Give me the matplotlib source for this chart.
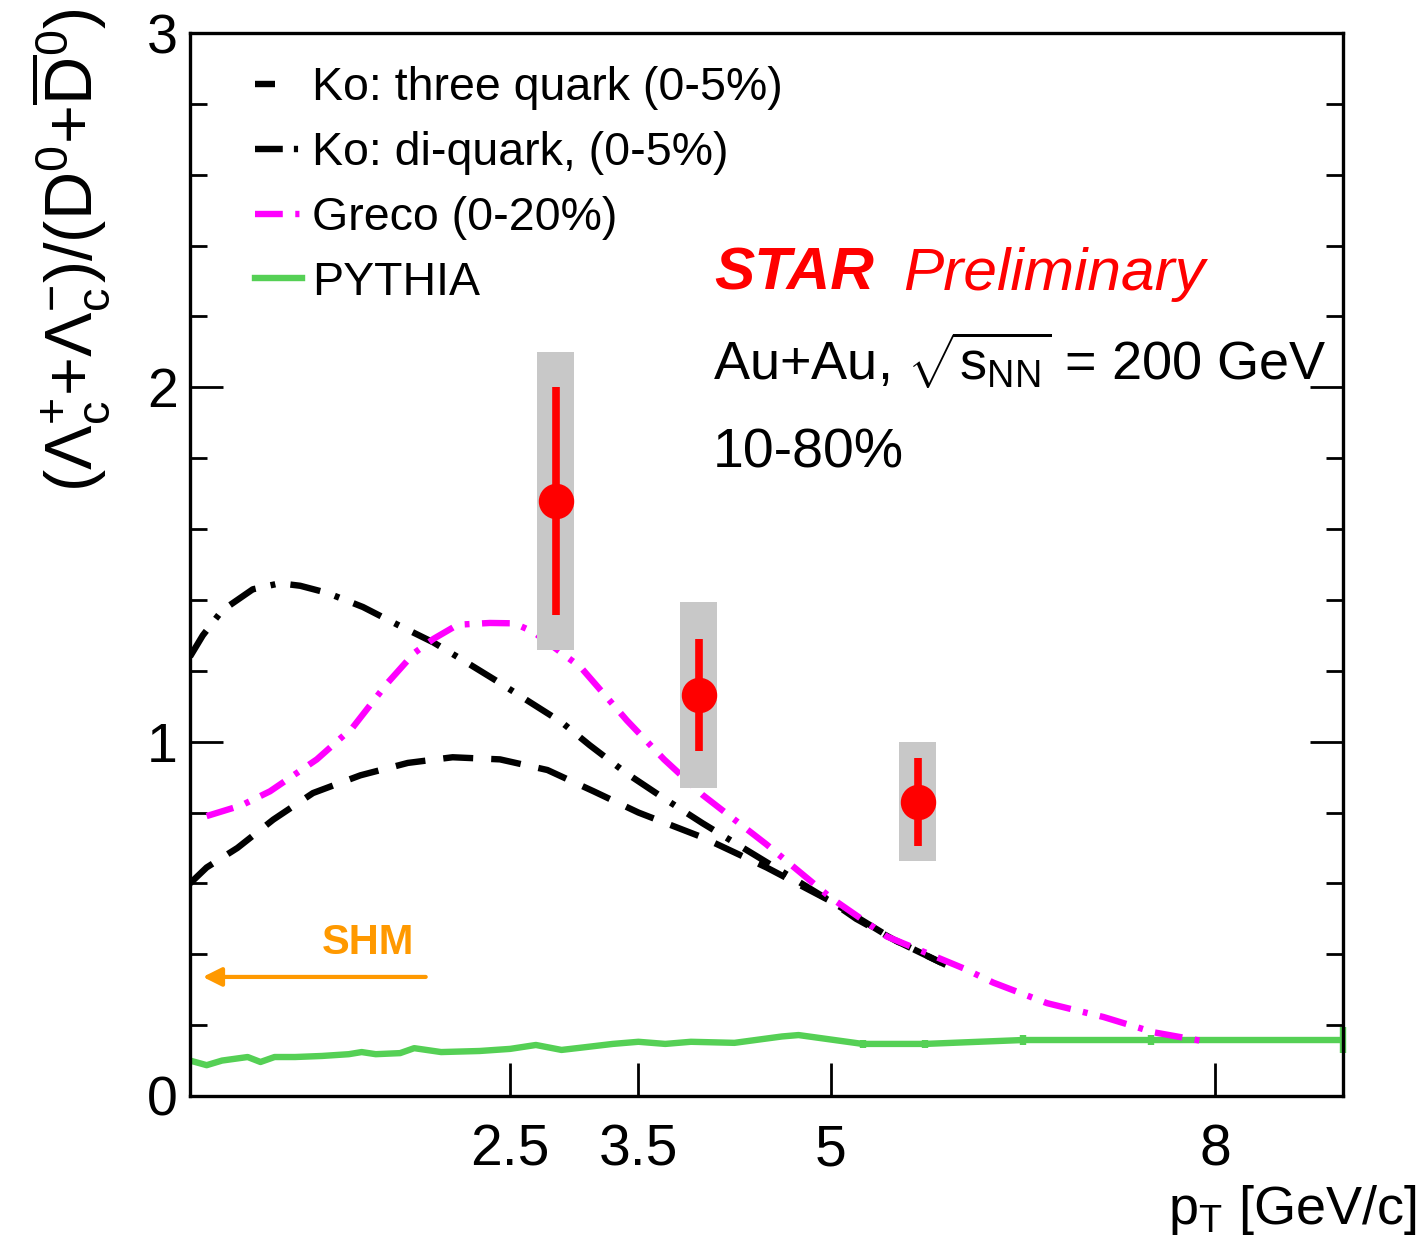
import numpy as np
import matplotlib
matplotlib.use("Agg")
import matplotlib.pyplot as plt
from matplotlib.lines import Line2D

plt.rcParams['font.family'] = ['Liberation Sans', 'DejaVu Sans']
plt.rcParams['mathtext.fontset'] = 'custom'
plt.rcParams['mathtext.rm'] = 'Liberation Sans'
plt.rcParams['mathtext.it'] = 'Liberation Sans:italic'
plt.rcParams['mathtext.bf'] = 'Liberation Sans:bold'
plt.rcParams['mathtext.default'] = 'regular'
plt.rcParams['lines.scale_dashes'] = False

# ---------------- data ----------------
# STAR measurement
pt_data = [2.855, 3.97, 5.68]
ratio_data = [1.68, 1.132, 0.83]
stat_err = [0.322, 0.158, 0.125]
sys_err = [0.42, 0.262, 0.168]
box_width = 0.29

# Ko: three quark (0-5%)
ko3_x = [0.0, 0.13, 0.37, 0.65, 0.96, 1.33, 1.70, 2.05, 2.42, 2.79, 3.15, 3.5, 4.0, 4.5, 5.0, 5.2, 5.5, 5.9]
ko3_y = [0.60, 0.645, 0.70, 0.78, 0.855, 0.905, 0.94, 0.956, 0.95, 0.92, 0.86, 0.80, 0.73, 0.645, 0.55, 0.50, 0.44, 0.37]

# Ko: di-quark (0-5%)
ko2_x = [0.0, 0.1, 0.25, 0.49, 0.70, 0.86, 1.07, 1.35, 1.62, 1.9, 2.13, 2.4, 2.66, 2.9, 3.12, 3.41, 3.7, 4.0, 4.5, 5.0, 5.5, 5.9]
ko2_y = [1.24, 1.30, 1.37, 1.43, 1.447, 1.44, 1.42, 1.38, 1.33, 1.28, 1.23, 1.17, 1.11, 1.055, 0.99, 0.91, 0.84, 0.77, 0.66, 0.55, 0.44, 0.37]

# Greco (0-20%)
greco_x = [0.13, 0.4, 0.625, 0.99, 1.27, 1.54, 1.75, 1.90, 2.09, 2.34, 2.53, 2.68, 3.05, 3.41, 3.7, 4.0, 4.5, 5.0, 5.44, 6.04, 6.27, 6.69, 7.13, 7.52, 7.95]
greco_y = [0.79, 0.82, 0.86, 0.95, 1.04, 1.165, 1.25, 1.29, 1.33, 1.335, 1.334, 1.31, 1.21, 1.06, 0.95, 0.85, 0.71, 0.56, 0.45, 0.36, 0.32, 0.262, 0.223, 0.18, 0.152]

# PYTHIA
py_x = [0.0, 0.13, 0.25, 0.45, 0.55, 0.66, 0.82, 1.03, 1.24, 1.34, 1.45, 1.64, 1.75, 1.96, 2.26, 2.5, 2.7, 2.9,
        3.09, 3.3, 3.5, 3.71, 3.91, 4.25, 4.62, 4.75, 5.25, 5.74, 6.5, 7.5, 9.0]
py_y = [0.10, 0.087, 0.10, 0.11, 0.096, 0.11, 0.11, 0.113, 0.118, 0.124, 0.118, 0.121, 0.135, 0.124, 0.127, 0.133,
        0.144, 0.13, 0.138, 0.147, 0.153, 0.147, 0.153, 0.15, 0.168, 0.172, 0.147, 0.147, 0.158, 0.158, 0.158]
py_err_x = [5.25, 5.74, 6.5, 7.5]
py_err_y = [0.147, 0.147, 0.158, 0.158]
py_err = [0.012, 0.012, 0.015, 0.015]
py_last_x = [9.0]
py_last_y = [0.158]
py_last_err = [0.037]

# SHM arrow
shm_from = (1.84, 0.336)
shm_to = (0.10, 0.336)

x_ticks = [2.5, 3.5, 5, 8]
x_ticklabels = ['2.5', '3.5', '5', '8']
y_ticks = [0, 1, 2, 3]
y_ticklabels = ['0', '1', '2', '3']

labels = ['Ko: three quark (0-5%)', 'Ko: di-quark, (0-5%)', 'Greco (0-20%)', 'PYTHIA']

# ---------------- figure ----------------
fig = plt.figure(figsize=(14.25, 12.42), dpi=100)
ax = fig.add_axes([190/1425, 1-1096/1242, (1343-190)/1425, (1096-33)/1242])

green = '#55d055'
magenta = '#ff00ff'
orange = '#ff9900'
lw = 4.6

dash3 = (21.6, 13)
dash2 = (22, 11, 3.5, 11)
dashg = (20, 9, 3.5, 9)

ax.plot(py_x, py_y, color=green, lw=lw, zorder=2, solid_joinstyle='round')
ax.errorbar(py_err_x, py_err_y, yerr=py_err, fmt='none', ecolor=green, elinewidth=lw, capsize=0, zorder=2)
ax.errorbar(py_last_x, py_last_y, yerr=py_last_err, fmt='none', ecolor=green, elinewidth=lw, capsize=0,
            zorder=2, clip_on=False)

ax.plot(ko3_x, ko3_y, color='black', lw=lw, dashes=dash3, zorder=2)
ax.plot(ko2_x, ko2_y, color='black', lw=lw, dashes=dash2, zorder=2)
ax.plot(greco_x, greco_y, color=magenta, lw=lw, dashes=dashg, zorder=2)

# systematic boxes
lo = [v - s for v, s in zip(ratio_data, sys_err)]
hi = [2 * s for s in sys_err]
ax.bar(pt_data, hi, bottom=lo, width=box_width, color='#c8c8c8', edgecolor='none', zorder=3)
ax.errorbar(pt_data, ratio_data, yerr=stat_err, fmt='o', color='red', ms=24.5, elinewidth=5.5,
            capsize=0, zorder=4)

# SHM
ax.annotate('', xy=shm_to, xytext=shm_from,
            arrowprops=dict(arrowstyle='-|>', color=orange, lw=3, mutation_scale=28,
                            shrinkA=0, shrinkB=0))
ax.text(1.39, 0.40, 'SHM', color=orange, fontsize=30, fontweight='bold', ha='center', va='baseline')

# texts
ax.text(4.09, 2.275, 'STAR', color='red', fontsize=43.5, fontweight='bold', fontstyle='italic', va='baseline')
ax.text(5.57, 2.275, 'Preliminary', color='red', fontsize=43.5, fontstyle='italic', va='baseline')
ax.text(4.08, 2.02, r'Au+Au, $\sqrt{s_{NN}}$ = 200 GeV', fontsize=39, va='baseline')
ax.text(4.08, 1.775, '10-80%', fontsize=40, va='baseline')

# axes
ax.set_xlim(0, 9)
ax.set_ylim(0, 3)
ax.set_xticks(x_ticks)
ax.set_xticklabels(x_ticklabels)
ax.set_yticks(y_ticks)
ax.set_yticklabels(y_ticklabels)
ax.set_yticks(np.arange(0, 3.01, 0.2), minor=True)
ax.tick_params(axis='y', which='both', direction='in', left=True, right=True, width=2.0, labelsize=40, pad=9)
ax.tick_params(axis='y', which='major', length=24)
ax.tick_params(axis='y', which='minor', length=12)
ax.tick_params(axis='x', which='major', direction='in', length=24, width=2.0, labelsize=41, pad=20, top=False)
ax.tick_params(axis='x', which='minor', bottom=False, top=False)
for sp in ax.spines.values():
    sp.set_linewidth(2.4)

# legend
h1 = Line2D([], [], color='black', lw=lw, dashes=(14.4, 30))
h2 = Line2D([], [], color='black', lw=lw, dashes=(20, 8, 3, 20))
h3 = Line2D([], [], color=magenta, lw=lw, dashes=(20, 9, 3, 20))
h4 = Line2D([], [], color=green, lw=lw)
ax.legend([h1, h2, h3, h4], labels, loc='upper left', bbox_to_anchor=((255-190)/1153, 0.969),
          frameon=False, fontsize=33.5, handlelength=1.0, handletextpad=0.22, labelspacing=0.45,
          borderpad=0, borderaxespad=0)

# axis labels
fig.text(70/1425, 1-8/1242, r'$(\Lambda_{c}^{+}{+}\Lambda_{c}^{-})/(D^{0}{+}\overline{D}^{0})$',
         rotation=90, ha='center', va='top', fontsize=48)
fig.text(1417/1425, 1-1224/1242, r'p$_{T}$ [GeV/c]', ha='right', va='baseline', fontsize=39)

fig.savefig('out.png', dpi=100)
